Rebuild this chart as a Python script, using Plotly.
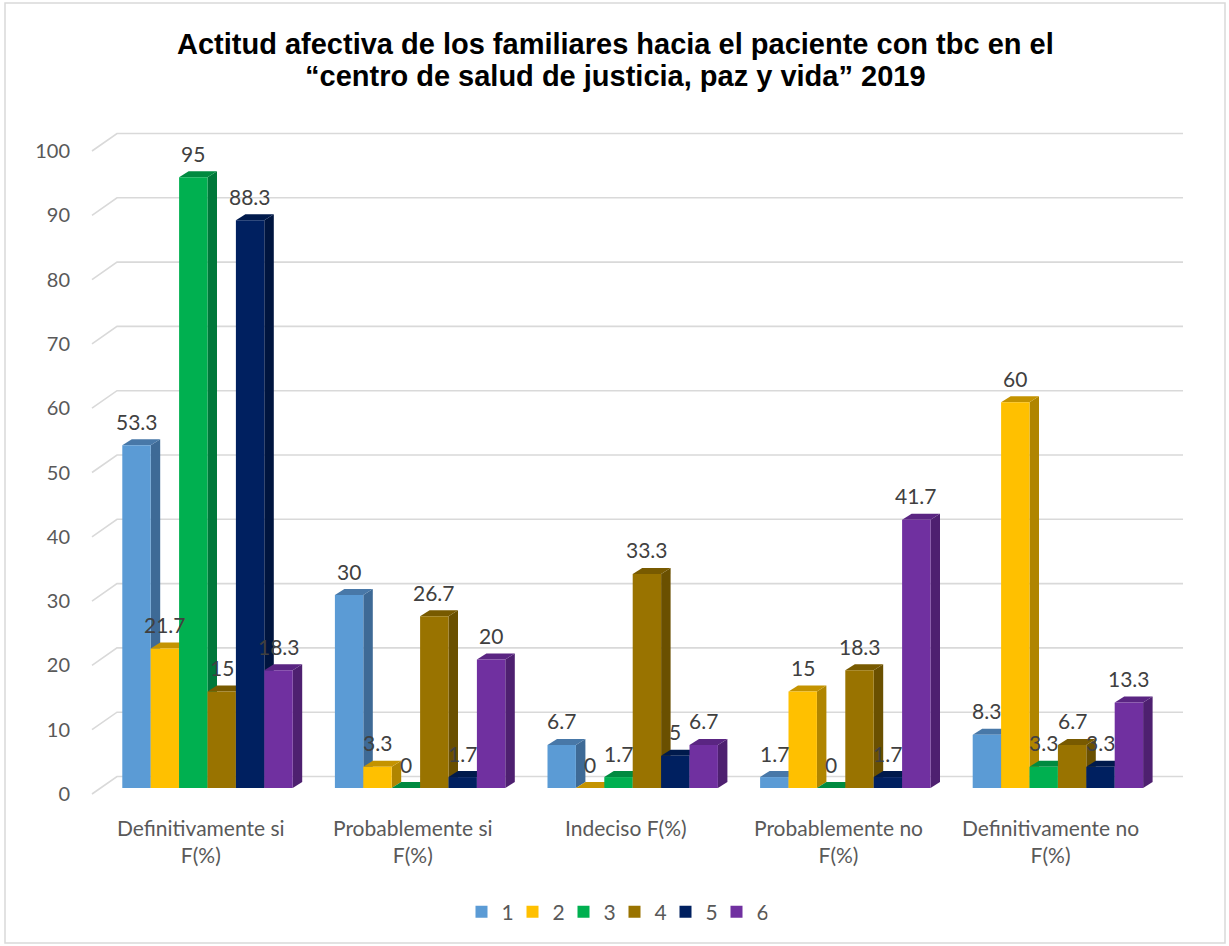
import plotly.graph_objects as go

# ---------------- data ----------------
CATEGORIES = ["Definitivamente si<br>F(%)", "Probablemente si<br>F(%)", "Indeciso F(%)",
              "Probablemente no<br>F(%)", "Definitivamente no<br>F(%)"]
SERIES = ["1", "2", "3", "4", "5", "6"]
S1 = [53.3, 30, 6.7, 1.7, 8.3]
S2 = [21.7, 3.3, 0, 15, 60]
S3 = [95, 0, 1.7, 0, 3.3]
S4 = [15, 26.7, 33.3, 18.3, 6.7]
S5 = [88.3, 1.7, 5, 1.7, 3.3]
S6 = [18.3, 20, 6.7, 41.7, 13.3]
VALUES = [S1, S2, S3, S4, S5, S6]
Y_TICKS = [0, 10, 20, 30, 40, 50, 60, 70, 80, 90, 100]
TITLE_LINES = ["Actitud afectiva de los familiares hacia el paciente con tbc en el",
               "“centro de salud de justicia, paz y vida” 2019"]

# ---------------- styling ----------------
FRONT = ["#5B9BD5", "#FFC000", "#00B050", "#997300", "#002060", "#7030A0"]
SIDE = ["#3E6A96", "#B08500", "#00783A", "#6A5000", "#00153F", "#4E2070"]
TOP = ["#4878A8", "#C49300", "#008A40", "#785A00", "#001A4C", "#5A2582"]

W, H = 1229, 946
L, R, T, B = 85, 39, 115, 146
CAT_PX = 212.6          # pixels between category centres
CAT0_PX = 207.5         # pixel x of first category centre
PX_Y = 6.43             # pixels per value unit
ZERO_PX = 788           # pixel y of the bar base
BAR_PX = 28.4
DEPTH_X, DEPTH_Y = 9.5, 6.0
BACK_UP = 11.5          # back wall offset above bar plane (px)
FRONT_DOWN = 6.0        # front plane offset below bar plane (px)

xr = [(L - CAT0_PX) / CAT_PX, (W - R - CAT0_PX) / CAT_PX]
yr = [(ZERO_PX - (H - B)) / PX_Y, (ZERO_PX - T) / PX_Y]
bw = BAR_PX / CAT_PX
ddx = DEPTH_X / CAT_PX
ddy = DEPTH_Y / PX_Y
back_dy = BACK_UP / PX_Y
front_dy = FRONT_DOWN / PX_Y
ph = H - T - B
pw = W - L - R

FONT = "Lato, 'Open Sans', sans-serif"

fig = go.Figure()
shapes = []
annotations = []

# back wall grid lines (3D look)
gx_front = (92 - CAT0_PX) / CAT_PX
gx_back = (117 - CAT0_PX) / CAT_PX
gx_end = (1183 - CAT0_PX) / CAT_PX
for v in Y_TICKS:
    shapes.append(dict(type="path", xref="x", yref="y", layer="below",
                       path=f"M {gx_front},{v - front_dy} L {gx_back},{v + back_dy} L {gx_end},{v + back_dy}",
                       line=dict(color="#D9D9D9", width=1.6)))

n = len(SERIES)
for j, (name, vals) in enumerate(zip(SERIES, VALUES)):
    xs = [i + (j - (n - 1) / 2) * bw for i in range(len(vals))]
    fig.add_trace(go.Bar(x=xs, y=vals, width=bw, name=name,
                         marker=dict(color=FRONT[j], line=dict(width=0)),
                         hovertemplate="%{y}<extra>" + name + "</extra>"))
    for x, v in zip(xs, vals):
        xl, xrr = x - bw / 2, x + bw / 2
        shapes.append(dict(type="path", xref="x", yref="y", layer="below",
                           path=f"M {xrr},0 L {xrr},{v} L {xrr + ddx},{v + ddy} L {xrr + ddx},{ddy} Z",
                           fillcolor=SIDE[j], line=dict(width=0)))
        shapes.append(dict(type="path", xref="x", yref="y", layer="below",
                           path=f"M {xl},{v} L {xrr},{v} L {xrr + ddx},{v + ddy} L {xl + ddx},{v + ddy} Z",
                           fillcolor=TOP[j], line=dict(width=0)))
        annotations.append(dict(x=x, y=v, xref="x", yref="y", text=f"{v:g}", showarrow=False,
                                yshift=24, yanchor="middle", xanchor="center",
                                font=dict(family=FONT, size=21, color="#404040")))

# category labels
for i, c in enumerate(CATEGORIES):
    annotations.append(dict(x=i, xref="x", y=(H - B - 813) / ph, yref="paper",
                            text=c, showarrow=False, xanchor="center", yanchor="top",
                            xshift=-7, align="center",
                            font=dict(family=FONT, size=21, color="#595959")))

# title (two lines)
for line, cy in zip(TITLE_LINES, [44, 76]):
    annotations.append(dict(x=(615 - L) / pw, xref="paper", y=(H - B - cy) / ph, yref="paper",
                            text=f"<b>{line}</b>", showarrow=False, xanchor="center", yanchor="middle",
                            font=dict(family="Arial, 'Liberation Sans', sans-serif", size=29,
                                      color="#000000")))

# outer border
shapes.append(dict(type="rect", xref="paper", yref="paper", layer="above",
                   x0=(5 - L) / pw, x1=(1225 - L) / pw,
                   y0=(H - B - 943) / ph, y1=(H - B - 3) / ph,
                   line=dict(color="#D9D9D9", width=1.5)))

fig.add_trace(go.Scatter(x=[0], y=[0], yaxis="y2", mode="markers",
                         marker=dict(opacity=0), showlegend=False, hoverinfo="skip"))

fig.update_layout(
    width=W, height=H,
    margin=dict(l=L, r=R, t=T, b=B, autoexpand=False),
    paper_bgcolor="white", plot_bgcolor="white",
    barmode="overlay",
    xaxis=dict(range=xr, visible=False, fixedrange=True),
    yaxis=dict(range=yr, showgrid=False, zeroline=False, showticklabels=False,
               showline=False, fixedrange=True),
    yaxis2=dict(range=[yr[0] + front_dy, yr[1] + front_dy], overlaying="y", side="left",
                showgrid=False, zeroline=False, showline=False, tickvals=Y_TICKS,
                ticks="", ticklabelstandoff=14,
                tickfont=dict(family=FONT, size=20, color="#595959"), fixedrange=True),
    legend=dict(orientation="h", x=0.5, xanchor="center", xref="container",
                y=(H - B - 912) / ph, yanchor="middle",
                font=dict(family=FONT, size=21, color="#595959"),
                itemwidth=30, entrywidth=6, entrywidthmode="pixels", traceorder="normal"),
    shapes=shapes,
    annotations=annotations,
    showlegend=True,
)

fig.write_html("out.html", config={"displayModeBar": False},
               post_script="document.body.style.margin='0';document.body.style.overflow='hidden';")
